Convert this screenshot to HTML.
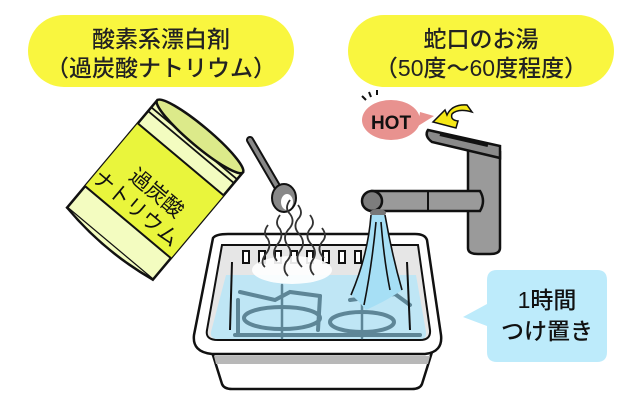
<!DOCTYPE html>
<html><head><meta charset="utf-8"><style>
html,body{margin:0;padding:0;background:#fff;}
svg{display:block;}
text{font-family:"Liberation Sans","Noto Sans CJK JP",sans-serif;}
</style></head><body>
<svg width="640" height="400" viewBox="0 0 640 400" xmlns="http://www.w3.org/2000/svg">
<!-- Pills -->
<rect x="28" y="15" width="266" height="72" rx="36" fill="#f9f63f"/>
<rect x="348" y="15" width="266" height="72" rx="36" fill="#f9f63f"/>
<text x="161" y="47" font-size="23" font-weight="500" text-anchor="middle" fill="#222">酸素系漂白剤</text>
<text x="161" y="76" font-size="23" font-weight="500" text-anchor="middle" fill="#222">（過炭酸ナトリウム）</text>
<text x="481" y="47" font-size="23" font-weight="500" text-anchor="middle" fill="#222">蛇口のお湯</text>
<text x="481" y="76" font-size="23" font-weight="500" text-anchor="middle" fill="#222">（50度～60度程度）</text>

<!-- Can -->
<g transform="translate(155,190) rotate(-50)" stroke="#111" stroke-width="2.5">
  <path d="M-70,-56 L70,-56 L70,56 L-70,56 Z" fill="#f3fcc0"/>
  <rect x="-42" y="-56" width="82" height="112" fill="#e9f53c" stroke="none"/>
  <line x1="-42" y1="-56" x2="-42" y2="56" stroke-width="2"/>
  <line x1="40" y1="-56" x2="40" y2="56" stroke-width="2"/>
  <line x1="56" y1="-56" x2="56" y2="56" stroke-width="1.8"/>
  <line x1="61" y1="-56" x2="61" y2="56" stroke-width="1.8"/>
  <ellipse cx="70" cy="0" rx="10" ry="56" fill="#dcea8a"/>
  <path d="M-70,-56 Q-80,0 -70,56" fill="#f3fcc0"/>
</g>
<g transform="translate(142,198) rotate(40)" fill="#111">
  <text x="8" y="-6" font-size="21" text-anchor="middle">過炭酸</text>
  <text x="2" y="19" font-size="21" text-anchor="middle">ナトリウム</text>
</g>

<!-- Spoon -->
<line x1="250" y1="140" x2="278" y2="188" stroke="#111" stroke-width="8" stroke-linecap="round"/>
<line x1="250" y1="140" x2="278" y2="188" stroke="#888" stroke-width="4" stroke-linecap="round"/>
<ellipse cx="284" cy="198" rx="12" ry="14" fill="#888" stroke="#111" stroke-width="2"/>
<ellipse cx="287" cy="202" rx="6" ry="8" fill="#fff"/>

<!-- Basin -->
<path d="M212,352 L222,384 Q224,389 232,389 L412,389 Q420,389 422,384 L432,352 Z" fill="#fff" stroke="#111" stroke-width="2.5"/>
<path d="M214,356 L430,356 L428,364 L216,364 Z" fill="#b8b8b8"/>
<path d="M213,238 Q216,234 228,234 L415,234 Q425,234 427,240 L441,335 Q443,352 425,354 L212,354 Q192,352 194,335 Z" fill="#fff" stroke="#111" stroke-width="2.5"/>
<path d="M222,245 L418,245 L430,330 Q431,340 420,340 L218,340 Q205,340 207,330 Z" fill="#e6e6e6" stroke="#111" stroke-width="2"/>
<path d="M226,275 L416,275 L426,332 Q427,339 420,339 L218,339 Q210,339 211,332 Z" fill="#bfe6f5"/>
<!-- slots -->
<g fill="#fff" stroke="#111" stroke-width="2">
  <rect x="243" y="251" width="6" height="12"/><rect x="259" y="251" width="6" height="12"/>
  <rect x="275" y="251" width="6" height="12"/><rect x="291" y="251" width="6" height="12"/>
  <rect x="307" y="251" width="6" height="12"/><rect x="323" y="251" width="6" height="12"/>
  <rect x="339" y="251" width="6" height="12"/><rect x="355" y="251" width="6" height="12"/>
</g>
<!-- grate -->
<g stroke="#5e8697" stroke-width="4" fill="none" stroke-linecap="round">
  <ellipse cx="282" cy="318" rx="38" ry="11"/>
  <ellipse cx="362" cy="322" rx="32" ry="10"/>
  <path d="M240,292 L275,300 L290,292 L320,296"/>
  <path d="M238,300 L238,335 M320,296 L318,330"/>
  <path d="M235,335 L420,335"/>
  <path d="M350,300 L395,294 L410,305"/>
  <line x1="282" y1="285" x2="282" y2="338" stroke-width="2.5"/>
  <line x1="362" y1="298" x2="362" y2="338" stroke-width="2.5"/>
</g>
<g stroke="#111" stroke-width="2">
  <line x1="232" y1="262" x2="230" y2="330"/>
  <line x1="407" y1="262" x2="410" y2="330"/>
</g>
<!-- powder cloud -->
<ellipse cx="292" cy="270" rx="40" ry="14" fill="#fff" opacity="0.9"/>
<g stroke="#333" stroke-width="1.8" fill="none">
  <path d="M290,200 q-6,8 0,14 q6,8 -2,16 q-6,8 0,16 q6,8 -2,16 q-4,8 2,14"/>
  <path d="M298,205 q6,8 0,14 q-6,8 2,16 q6,8 0,16 q-6,8 2,16"/>
  <path d="M280,215 q-6,8 0,14 q4,8 -3,16 q-6,8 0,16"/>
  <path d="M310,215 q6,8 0,14 q-6,8 2,16 q6,8 0,16 q-4,8 2,14"/>
  <path d="M268,225 q-6,8 0,14 q4,8 -3,16 q-5,8 0,12"/>
  <path d="M322,228 q6,8 0,14 q-6,8 2,16"/>
</g>

<!-- Faucet -->
<path d="M468,145 L500,152 L500,248 Q500,254 490,254 L478,254 Q468,254 468,248 Z" fill="#9a9a9a" stroke="#111" stroke-width="2.5"/>
<path d="M428,130 L500,146 L500,158 L432,142 Q424,136 428,130 Z" fill="#8a8a8a" stroke="#111" stroke-width="2.5"/>
<path d="M440,134 L488,145" stroke="#111" stroke-width="4"/>
<path d="M372,191 L480,191 Q486,201 480,211 L372,211 Z" fill="#9a9a9a" stroke="#111" stroke-width="2.5"/>
<line x1="428" y1="191" x2="428" y2="211" stroke="#111" stroke-width="2"/>
<ellipse cx="372" cy="201" rx="10" ry="10" fill="#7d7d7d" stroke="#111" stroke-width="2.5"/>
<ellipse cx="378" cy="213" rx="8" ry="4" fill="#777"/>
<!-- water stream -->
<path d="M371,215 L385,215 Q392,255 402,290 Q388,300 366,310 Q358,300 351,295 Q368,255 371,215 Z" fill="#a6dff5"/>
<g stroke="#111" stroke-width="1.6" fill="none">
  <path d="M371,215 Q368,255 351,295"/><path d="M385,215 Q392,255 402,290"/>
  <path d="M376,222 Q372,265 364,305"/><path d="M381,222 Q384,260 390,290"/>
</g>

<!-- HOT bubble -->
<path d="M420,112 L434,116 L418,126 Z" fill="#e8928f"/>
<ellipse cx="391" cy="120" rx="29" ry="20" fill="#e8928f"/>
<text x="391" y="129" font-size="19" font-weight="bold" text-anchor="middle" fill="#111">HOT</text>
<g stroke="#111" stroke-width="2"><line x1="362" y1="96" x2="366" y2="100"/><line x1="369" y1="92" x2="371" y2="97"/><line x1="377" y1="90" x2="377" y2="95"/></g>
<path d="M467,105 L472,112 Q458,108 452,114 Q450,120 458,121 L456,128 L433,122 L445,110 L447,115 Q452,104 467,105 Z" fill="#f6e816" stroke="#111" stroke-width="1.5"/>

<!-- Callout -->
<path d="M497,270 L597,270 Q607,270 607,280 L607,352 Q607,362 597,362 L497,362 Q487,362 487,352 L487,326 L463,317 L487,304 L487,280 Q487,270 497,270 Z" fill="#bdebfb"/>
<text x="547" y="308" font-size="23" font-weight="500" text-anchor="middle" fill="#111">1時間</text>
<text x="547" y="339" font-size="23" font-weight="500" text-anchor="middle" fill="#111">つけ置き</text>
</svg>
</body></html>
